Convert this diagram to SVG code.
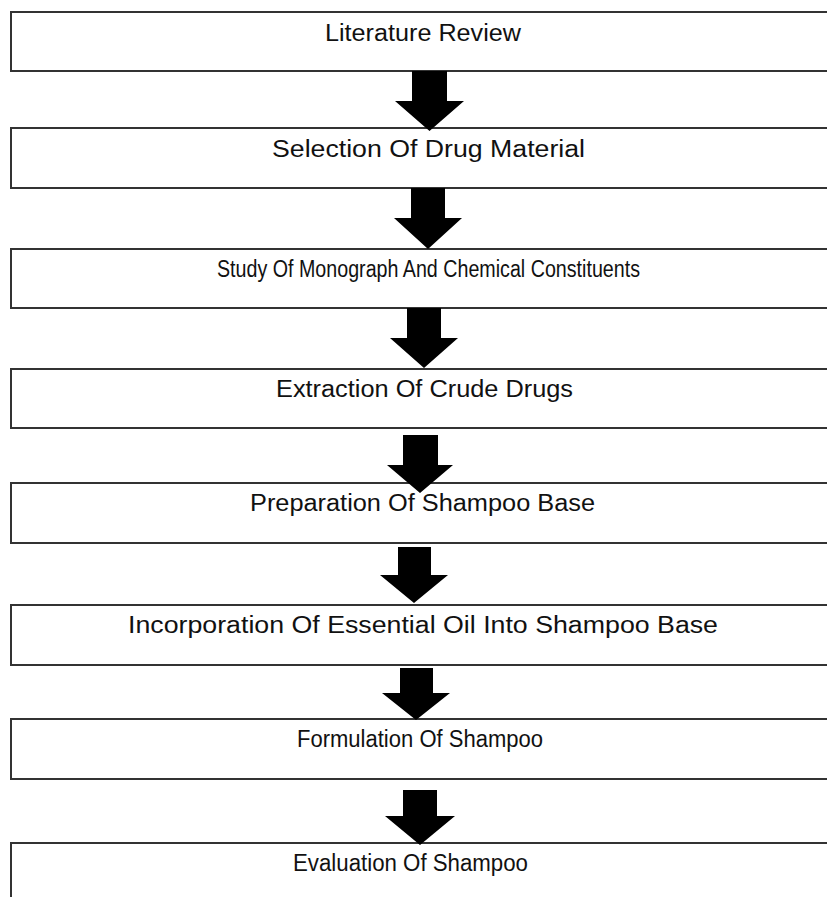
<svg xmlns="http://www.w3.org/2000/svg" width="827" height="897" viewBox="0 0 827 897">
<style>
.box{fill:#fff;stroke:#333;stroke-width:2}
.lbl{font-family:"Liberation Sans Narrow","Liberation Sans",Arial,sans-serif;font-size:23px;fill:#111;text-anchor:start}
.arr{fill:#000}
</style>
<rect width="827" height="897" fill="#fff"/>
<g id="n1"><rect class="box" x="11" y="12" width="830" height="59"/><text class="lbl" x="325" y="41" textLength="196" lengthAdjust="spacingAndGlyphs">Literature Review</text></g>
<g id="n2"><rect class="box" x="11" y="128" width="830" height="60"/><text class="lbl" x="272" y="157" textLength="313" lengthAdjust="spacingAndGlyphs">Selection Of Drug Material</text></g>
<g id="n3"><rect class="box" x="11" y="249" width="830" height="59"/><text class="lbl" x="217" y="277" textLength="423" lengthAdjust="spacingAndGlyphs">Study Of Monograph And Chemical Constituents</text></g>
<g id="n4"><rect class="box" x="11" y="369" width="830" height="59"/><text class="lbl" x="276" y="397" textLength="297" lengthAdjust="spacingAndGlyphs">Extraction Of Crude Drugs</text></g>
<g id="n5"><rect class="box" x="11" y="483" width="830" height="60"/><text class="lbl" x="250" y="511" textLength="345" lengthAdjust="spacingAndGlyphs">Preparation Of Shampoo Base</text></g>
<g id="n6"><rect class="box" x="11" y="605" width="830" height="60"/><text class="lbl" x="128" y="633" textLength="590" lengthAdjust="spacingAndGlyphs">Incorporation Of Essential Oil Into Shampoo Base</text></g>
<g id="n7"><rect class="box" x="11" y="719" width="830" height="60"/><text class="lbl" x="297" y="747" textLength="246" lengthAdjust="spacingAndGlyphs">Formulation Of Shampoo</text></g>
<g id="n8"><rect class="box" x="11" y="843" width="830" height="80"/><text class="lbl" x="293" y="871" textLength="235" lengthAdjust="spacingAndGlyphs">Evaluation Of Shampoo</text></g>
<g id="connectors">
<polygon class="arr" points="412,71 447,71 447,101 464,101 429.5,131 395,101 412,101"/>
<polygon class="arr" points="411,188 445,188 445,218 462,218 428,249 394,218 411,218"/>
<polygon class="arr" points="407,308 441,308 441,338 458,338 424,368 390,338 407,338"/>
<polygon class="arr" points="403,435 438,435 438,465 453,465 420,493 387,465 403,465"/>
<polygon class="arr" points="398,547 431,547 431,575 448,575 414,603 380,575 398,575"/>
<polygon class="arr" points="400,668 433,668 433,693 450,693 416,720 382,693 400,693"/>
<polygon class="arr" points="403,790 437,790 437,816 455,816 420,845 385,816 403,816"/>
</g>
</svg>
